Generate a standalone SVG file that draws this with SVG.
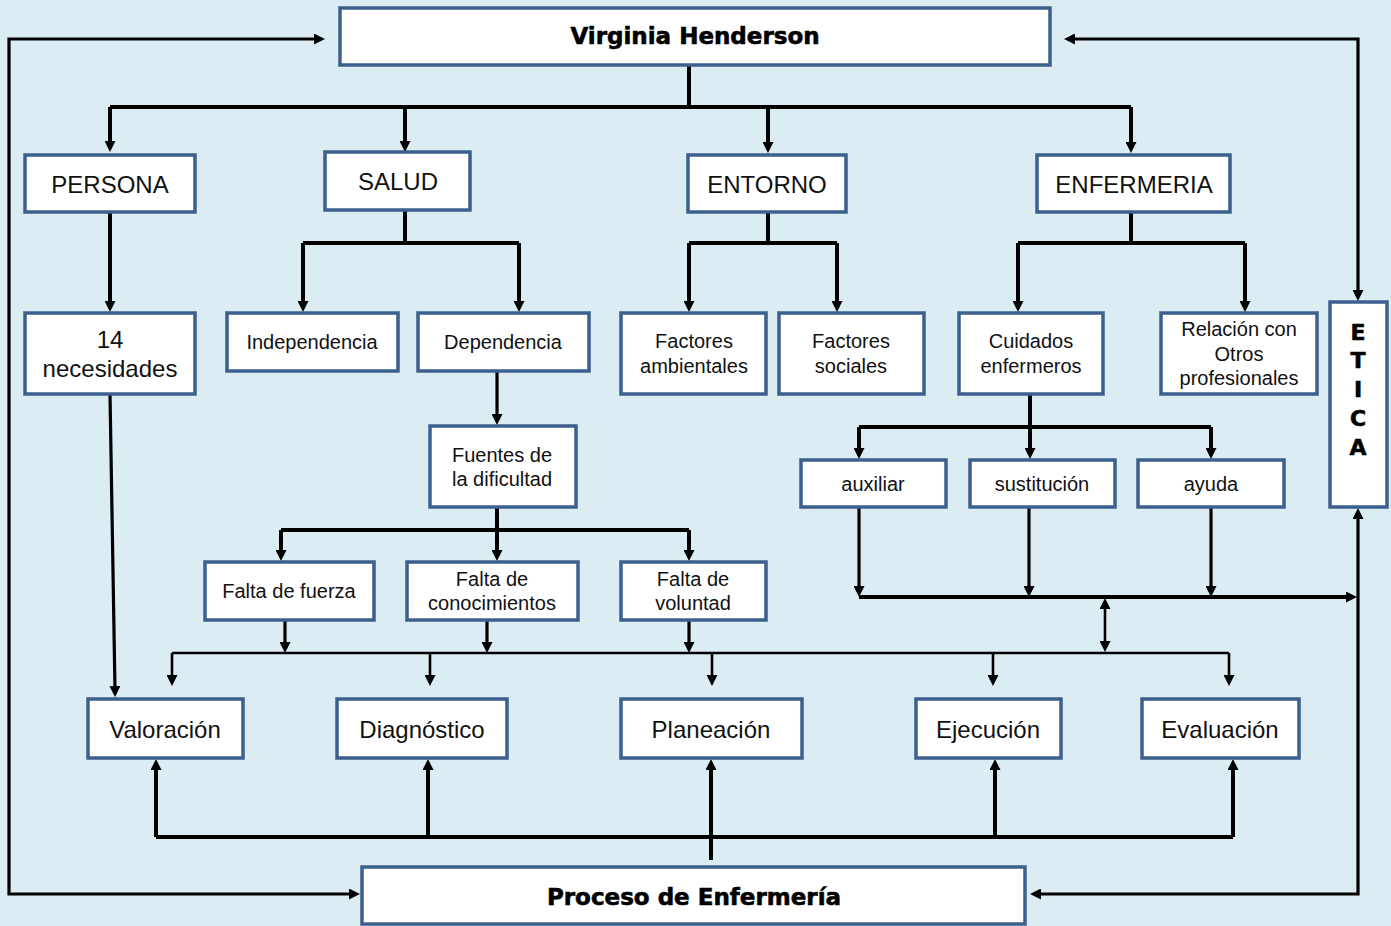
<svg xmlns="http://www.w3.org/2000/svg" width="1391" height="926" viewBox="0 0 1391 926">
<style>
.box{fill:#ffffff;stroke:#3D5F8E;stroke-width:3.5}
.t{font-family:"Liberation Sans",Arial,sans-serif;font-size:24px;fill:#111;text-anchor:middle}
.s{font-family:"Liberation Sans",Arial,sans-serif;font-size:20px;fill:#111;text-anchor:middle}
.b{font-family:"DejaVu Sans",sans-serif;font-weight:bold;font-size:23px;fill:#000;stroke:#000;stroke-width:0.6;text-anchor:middle}
.e{font-family:"DejaVu Sans",sans-serif;font-weight:bold;font-size:22px;fill:#000;stroke:#000;stroke-width:0.6;text-anchor:middle}
.k{fill:none;stroke:#000;stroke-width:4}
.m{fill:none;stroke:#000;stroke-width:3.2}
.n{fill:none;stroke:#000;stroke-width:2.6}
.a{marker-end:url(#ah)}
.aa{marker-start:url(#ah);marker-end:url(#ah)}
</style>
<defs>
<marker id="ah" viewBox="0 0 10 10" refX="3.6" refY="5" markerWidth="11" markerHeight="11" markerUnits="userSpaceOnUse" orient="auto-start-reverse">
<path d="M0,0 L10,5 L0,10 z" fill="#000"/>
</marker>
</defs>
<rect width="1391" height="926" fill="#DBEDF3"/>

<g id="connectors">
<path class="k" d="M689,65 V107"/>
<path class="k" d="M110,107 H1131"/>
<path class="k a" d="M110,107 V145"/>
<path class="k a" d="M405,107 V145"/>
<path class="k a" d="M768,107 V146"/>
<path class="k a" d="M1131,107 V146"/>
<path class="k a" d="M110,212 V305"/>
<path class="k" d="M405,210 V243 M303,243 H519"/>
<path class="k a" d="M303,243 V305"/>
<path class="k a" d="M519,243 V305"/>
<path class="k" d="M768,212 V243 M689,243 H837"/>
<path class="k a" d="M689,243 V305"/>
<path class="k a" d="M837,243 V305"/>
<path class="k" d="M1131,212 V243 M1018,243 H1245"/>
<path class="k a" d="M1018,243 V305"/>
<path class="k a" d="M1245,243 V305"/>
<path class="m a" d="M497,371 V418"/>
<path class="k" d="M497,507 V530 M281,530 H689"/>
<path class="k a" d="M281,530 V554"/>
<path class="k a" d="M497,530 V554"/>
<path class="k a" d="M689,530 V554"/>
<path class="k" d="M1030,394 V427 M859,427 H1211"/>
<path class="k a" d="M859,427 V452"/>
<path class="k a" d="M1030,427 V452"/>
<path class="k a" d="M1211,427 V452"/>
<path class="m a" d="M859,507 V590"/>
<path class="m a" d="M1029,507 V590"/>
<path class="m a" d="M1211,507 V590"/>
<path class="k a" d="M859,597 H1350"/>
<path class="n aa" d="M1105,605 V645"/>
<path class="m a" d="M285,620 V646"/>
<path class="m a" d="M487,620 V646"/>
<path class="m a" d="M689,620 V646"/>
<path class="n" d="M172,653 H1229"/>
<path class="n a" d="M172,653 V679"/>
<path class="n a" d="M430,653 V679"/>
<path class="n a" d="M712,653 V679"/>
<path class="n a" d="M993,653 V679"/>
<path class="n a" d="M1229,653 V679"/>
<path class="m a" d="M110,394 L115,690"/>
<path class="k" d="M156,837 H1233"/>
<path class="k a" d="M156,837 V766"/>
<path class="k a" d="M428,837 V766"/>
<path class="k a" d="M711,860 V766"/>
<path class="k a" d="M995,837 V766"/>
<path class="k a" d="M1233,837 V766"/>
<path class="m aa" d="M318,39 H9 V894 H353"/>
<path class="m aa" d="M1071,39 H1358 V294"/>
<path class="m aa" d="M1037,894 H1358 V515"/>
</g>

<g id="virginia"><rect class="box" x="340" y="8" width="710" height="57"/><text class="b" x="695" y="44">Virginia Henderson</text></g>
<g id="persona"><rect class="box" x="25" y="155" width="170" height="57"/><text class="t" x="110" y="193">PERSONA</text></g>
<g id="salud"><rect class="box" x="325" y="152" width="145" height="58"/><text class="t" x="398" y="190">SALUD</text></g>
<g id="entorno"><rect class="box" x="688" y="155" width="158" height="57"/><text class="t" x="767" y="193">ENTORNO</text></g>
<g id="enfermeria"><rect class="box" x="1037" y="155" width="193" height="57"/><text class="t" x="1134" y="193">ENFERMERIA</text></g>
<g id="necesidades"><rect class="box" x="25" y="313" width="170" height="81"/><text class="t" x="110" y="348">14</text><text class="t" x="110" y="377">necesidades</text></g>
<g id="independencia"><rect class="box" x="227" y="313" width="171" height="58"/><text class="s" x="312" y="349">Independencia</text></g>
<g id="dependencia"><rect class="box" x="418" y="313" width="171" height="58"/><text class="s" x="503" y="349">Dependencia</text></g>
<g id="fuentes"><rect class="box" x="430" y="426" width="146" height="81"/><text class="s" x="502" y="462">Fuentes de</text><text class="s" x="502" y="486">la dificultad</text></g>
<g id="factores-amb"><rect class="box" x="621" y="313" width="145" height="81"/><text class="s" x="694" y="348">Factores</text><text class="s" x="694" y="373">ambientales</text></g>
<g id="factores-soc"><rect class="box" x="779" y="313" width="145" height="81"/><text class="s" x="851" y="348">Factores</text><text class="s" x="851" y="373">sociales</text></g>
<g id="cuidados"><rect class="box" x="959" y="313" width="144" height="81"/><text class="s" x="1031" y="348">Cuidados</text><text class="s" x="1031" y="373">enfermeros</text></g>
<g id="relacion"><rect class="box" x="1161" y="313" width="156" height="81"/><text class="s" x="1239" y="336">Relación con</text><text class="s" x="1239" y="361">Otros</text><text class="s" x="1239" y="385">profesionales</text></g>
<g id="etica"><rect class="box" x="1330" y="302" width="57" height="205"/><text class="e" x="1358" y="340">E</text><text class="e" x="1358" y="368">T</text><text class="e" x="1358" y="397">I</text><text class="e" x="1358" y="426">C</text><text class="e" x="1358" y="455">A</text></g>
<g id="auxiliar"><rect class="box" x="801" y="460" width="145" height="47"/><text class="s" x="873" y="491">auxiliar</text></g>
<g id="sustitucion"><rect class="box" x="970" y="460" width="145" height="47"/><text class="s" x="1042" y="491">sustitución</text></g>
<g id="ayuda"><rect class="box" x="1138" y="460" width="146" height="47"/><text class="s" x="1211" y="491">ayuda</text></g>
<g id="falta-fuerza"><rect class="box" x="205" y="562" width="169" height="58"/><text class="s" x="289" y="598">Falta de fuerza</text></g>
<g id="falta-conocimientos"><rect class="box" x="407" y="562" width="171" height="58"/><text class="s" x="492" y="586">Falta de</text><text class="s" x="492" y="610">conocimientos</text></g>
<g id="falta-voluntad"><rect class="box" x="621" y="562" width="145" height="58"/><text class="s" x="693" y="586">Falta de</text><text class="s" x="693" y="610">voluntad</text></g>
<g id="valoracion"><rect class="box" x="88" y="699" width="155" height="59"/><text class="t" x="165" y="738">Valoración</text></g>
<g id="diagnostico"><rect class="box" x="337" y="699" width="170" height="59"/><text class="t" x="422" y="738">Diagnóstico</text></g>
<g id="planeacion"><rect class="box" x="621" y="699" width="181" height="59"/><text class="t" x="711" y="738">Planeación</text></g>
<g id="ejecucion"><rect class="box" x="916" y="699" width="145" height="59"/><text class="t" x="988" y="738">Ejecución</text></g>
<g id="evaluacion"><rect class="box" x="1142" y="699" width="157" height="59"/><text class="t" x="1220" y="738">Evaluación</text></g>
<g id="proceso"><rect class="box" x="362" y="867" width="663" height="57"/><text class="b" x="694" y="905">Proceso de Enfermería</text></g>
</svg>
